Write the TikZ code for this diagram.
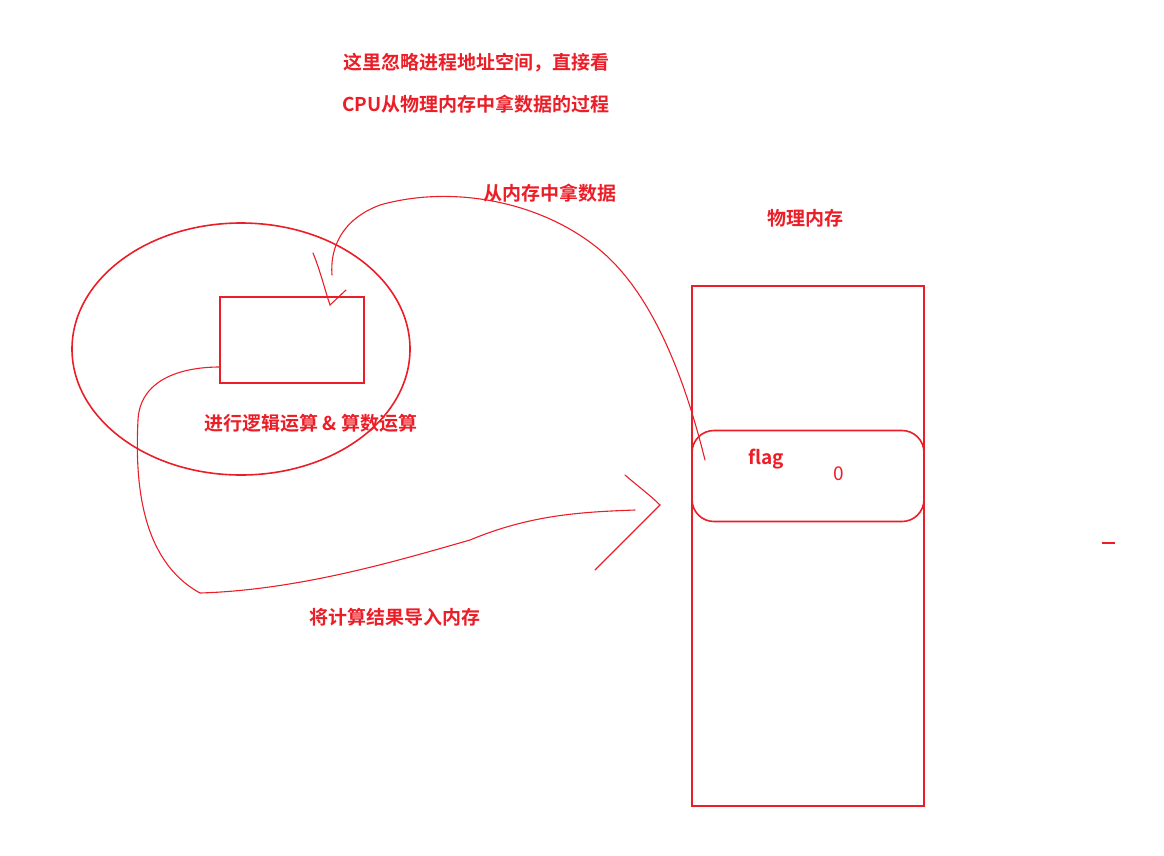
\documentclass[tikz,border=0pt]{standalone}
\usepackage{fontspec}
\setmainfont{Noto Sans CJK SC}[BoldFont={Noto Sans CJK SC Bold}]
\definecolor{rd}{RGB}{235,30,40}
\begin{document}
\begin{tikzpicture}[x=1pt,y=-1pt,
  lbl/.style={text=rd,font=\bfseries\fontsize{19}{22}\selectfont,inner sep=0},
  ln/.style={draw=rd,line width=1.6pt},
  pen/.style={draw=rd,line width=1.1pt,line cap=round}]
\useasboundingbox (0,0) rectangle (1164,855);
\node[lbl] (t1) at (476,63) {这里忽略进程地址空间，直接看};
\node[lbl] (t2) at (476,104) {CPU从物理内存中拿数据的过程};
\node[lbl] (t3) at (550,193) {从内存中拿数据};
\node[lbl] (t4) at (805,218) {物理内存};
\draw[ln] (241,349) ellipse [x radius=169, y radius=126];
\node[ln,minimum width=144pt,minimum height=86pt,inner sep=0] (cpu) at (292,340) {};
\node[lbl] (t5) at (311,423) {进行逻辑运算 \& 算数运算};
\node[ln,minimum width=232pt,minimum height=520pt,inner sep=0] (mem) at (808,546) {};
\node[ln,rounded corners=22pt,minimum width=232pt,minimum height=91pt,inner sep=0] (flagbox) at (808,476) {};
\node[lbl] (fl) at (766,459) {flag};
\node[text=rd,font=\fontsize{19}{22}\selectfont,inner sep=0] (z) at (839,474) {0};
\node[lbl] (t6) at (395,617) {将计算结果导入内存};
\draw[ln] (1102,543) -- (1115,543);
\draw[pen] (692,576) -- (692,580);
\draw[pen] (705,460) .. controls (690,400) and (660,300) .. (600,250)
  .. controls (540,200) and (450,185) .. (380,205)
  .. controls (340,220) and (330,250) .. (332,275);
\draw[pen] (313,253) .. controls (320,270) and (325,290) .. (330,305) -- (346,290);
\draw[pen] (220,367) .. controls (180,367) and (140,380) .. (138,420)
  .. controls (135,480) and (140,560) .. (200,593)
  .. controls (300,590) and (400,560) .. (470,540)
  .. controls (530,515) and (580,512) .. (635,510);
\draw[pen] (625,475) .. controls (640,488) and (650,495) .. (660,505)
  .. controls (640,525) and (615,550) .. (595,570);
\end{tikzpicture}
\end{document}
